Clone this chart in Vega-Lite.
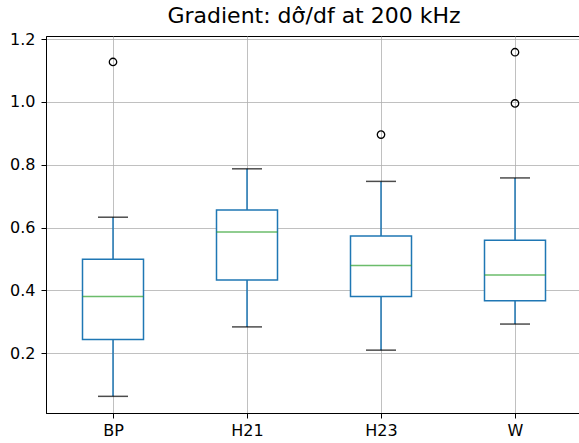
{
  "$schema": "https://vega.github.io/schema/vega-lite/v6.json",
  "autosize": "none",
  "width": 536,
  "height": 377,
  "padding": {"left": 46, "top": 36, "right": 0, "bottom": 30},
  "background": "white",
  "title": {
    "text": "Gradient: dσ̂/df at 200 kHz",
    "font": "DejaVu Sans",
    "fontSize": 22,
    "fontWeight": "normal",
    "color": "#000000",
    "anchor": "middle",
    "baseline": "alphabetic",
    "offset": 10,
    "dy": 24
  },
  "config": {
    "view": {"stroke": "#000000", "strokeWidth": 1},
    "axis": {
      "labelFont": "DejaVu Sans",
      "labelFontSize": 16,
      "labelColor": "#000000",
      "domainColor": "#000000",
      "tickColor": "#000000",
      "tickSize": 5,
      "gridColor": "#b0b0b0",
      "gridWidth": 0.8,
      "title": null
    }
  },
  "datasets": {
    "boxes": [
      {"group": "BP", "lo": 0.063, "q1": 0.244, "med": 0.381, "q3": 0.499, "hi": 0.633},
      {"group": "H21", "lo": 0.284, "q1": 0.433, "med": 0.586, "q3": 0.656, "hi": 0.787},
      {"group": "H23", "lo": 0.210, "q1": 0.381, "med": 0.479, "q3": 0.573, "hi": 0.747},
      {"group": "W", "lo": 0.293, "q1": 0.367, "med": 0.449, "q3": 0.560, "hi": 0.758}
    ],
    "outliers": [
      {"group": "BP", "value": 1.127},
      {"group": "H23", "value": 0.896},
      {"group": "W", "value": 1.158},
      {"group": "W", "value": 0.995}
    ]
  },
  "encoding": {
    "x": {
      "field": "group",
      "type": "nominal",
      "sort": ["BP", "H21", "H23", "W"],
      "scale": {"type": "point", "padding": 0.5},
      "axis": {"labelAngle": 0, "grid": true, "labelPadding": 4}
    }
  },
  "layer": [
    {
      "data": {"name": "boxes"},
      "mark": {"type": "rule", "color": "#1f77b4", "strokeWidth": 1.5},
      "encoding": {
        "y": {
          "field": "lo",
          "type": "quantitative",
          "scale": {"domain": [0.01, 1.2096], "nice": false, "zero": false},
          "axis": {"values": [0.2, 0.4, 0.6, 0.8, 1.0, 1.2], "format": ".1f", "grid": true, "labelPadding": 6}
        },
        "y2": {"field": "hi"}
      }
    },
    {
      "data": {"name": "boxes"},
      "mark": {"type": "bar", "size": 61, "fill": "white", "stroke": "#1f77b4", "strokeWidth": 1.5},
      "encoding": {
        "y": {"field": "q1", "type": "quantitative"},
        "y2": {"field": "q3"}
      }
    },
    {
      "data": {"name": "boxes"},
      "mark": {"type": "tick", "size": 61, "thickness": 1.5, "color": "#2ca02c", "orient": "horizontal"},
      "encoding": {"y": {"field": "med", "type": "quantitative"}}
    },
    {
      "data": {"name": "boxes"},
      "mark": {"type": "tick", "size": 30, "thickness": 1.5, "color": "#000000", "orient": "horizontal"},
      "encoding": {"y": {"field": "lo", "type": "quantitative"}}
    },
    {
      "data": {"name": "boxes"},
      "mark": {"type": "tick", "size": 30, "thickness": 1.5, "color": "#000000", "orient": "horizontal"},
      "encoding": {"y": {"field": "hi", "type": "quantitative"}}
    },
    {
      "data": {"name": "outliers"},
      "mark": {"type": "point", "shape": "circle", "filled": false, "size": 55, "color": "#000000", "strokeWidth": 1.3, "opacity": 1},
      "encoding": {"y": {"field": "value", "type": "quantitative"}}
    }
  ]
}
